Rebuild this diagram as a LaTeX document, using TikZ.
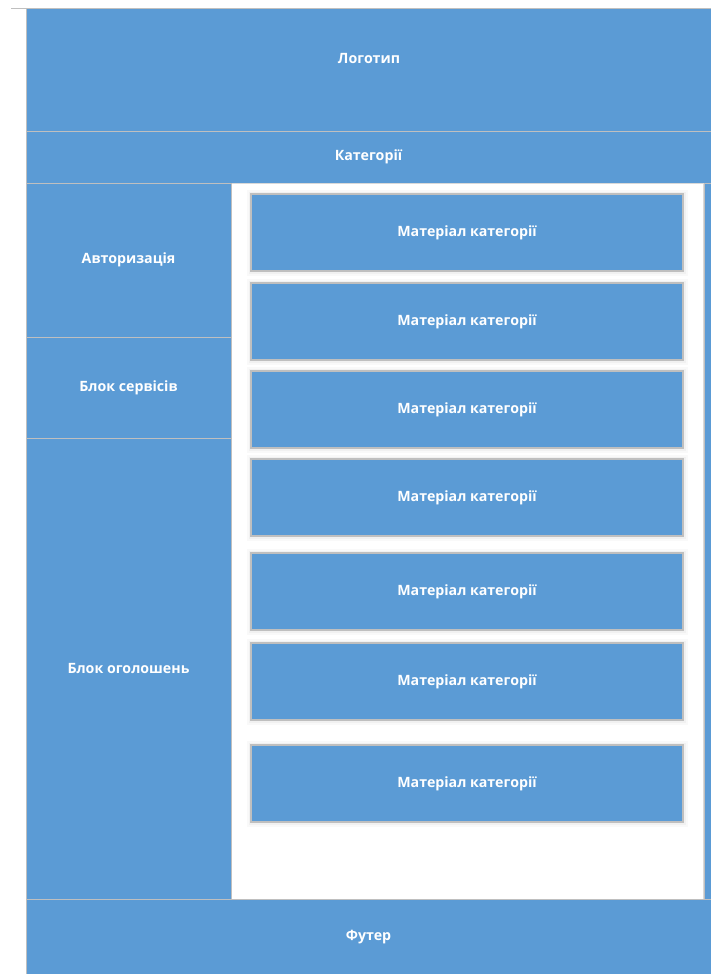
\documentclass[tikz,border=0pt]{standalone}
\usepackage{fontspec}
\newfontfamily\lblfont{Open Sans}
\definecolor{blu}{HTML}{5B9BD5}
\definecolor{edge}{HTML}{BFBFBF}
\tikzset{
  lbl/.style={font=\lblfont\bfseries\fontsize{14.2}{16}\selectfont, text=white},
  blk/.style={draw=edge, line width=1pt, fill=blu, anchor=north west, inner sep=0pt, outer sep=0pt, lbl},
  mat/.style={blk, minimum width=432pt, minimum height=77pt, line width=1.3pt,
    preaction={draw=black, draw opacity=0.025, line width=9pt},
    preaction={draw=black, draw opacity=0.03, line width=5pt}},
}
\begin{document}
\begin{tikzpicture}[x=1pt,y=-1pt]
\useasboundingbox[fill=white] (0,0) rectangle (711,974);
\draw[edge, line width=1pt] (11,9) -- (711,9);
\node[blk, minimum width=685pt, minimum height=122pt] (logo) at (26,9) {};
\node[lbl, inner sep=0pt] (logotext) at (369,59) {Логотип};
\node[blk, minimum width=685pt, minimum height=52pt] (cat) at (26,131) {Категорії};
\node[draw=edge!60, line width=1pt, fill=white, anchor=north west, inner sep=0pt, outer sep=0pt, minimum width=472pt, minimum height=716pt] (content) at (231,183) {};
\node[blk, minimum width=8pt, minimum height=716pt] (strip) at (704,183) {};
\node[blk, minimum width=205pt, minimum height=154pt] (auth) at (26,183) {Авторизація};
\node[blk, minimum width=205pt, minimum height=101pt] (serv) at (26,337) {Блок сервісів};
\node[blk, minimum width=205pt, minimum height=461pt] (ads) at (26,438) {Блок оголошень};
\node[blk, minimum width=685pt, minimum height=76pt] (foot) at (26,899) {Футер};
\node[mat] (m1) at (251,194) {Матеріал категорії};
\node[mat] (m2) at (251,283) {Матеріал категорії};
\node[mat] (m3) at (251,371) {Матеріал категорії};
\node[mat] (m4) at (251,459) {Матеріал категорії};
\node[mat] (m5) at (251,553) {Матеріал категорії};
\node[mat] (m6) at (251,643) {Матеріал категорії};
\node[mat] (m7) at (251,745) {Матеріал категорії};
\end{tikzpicture}
\end{document}
